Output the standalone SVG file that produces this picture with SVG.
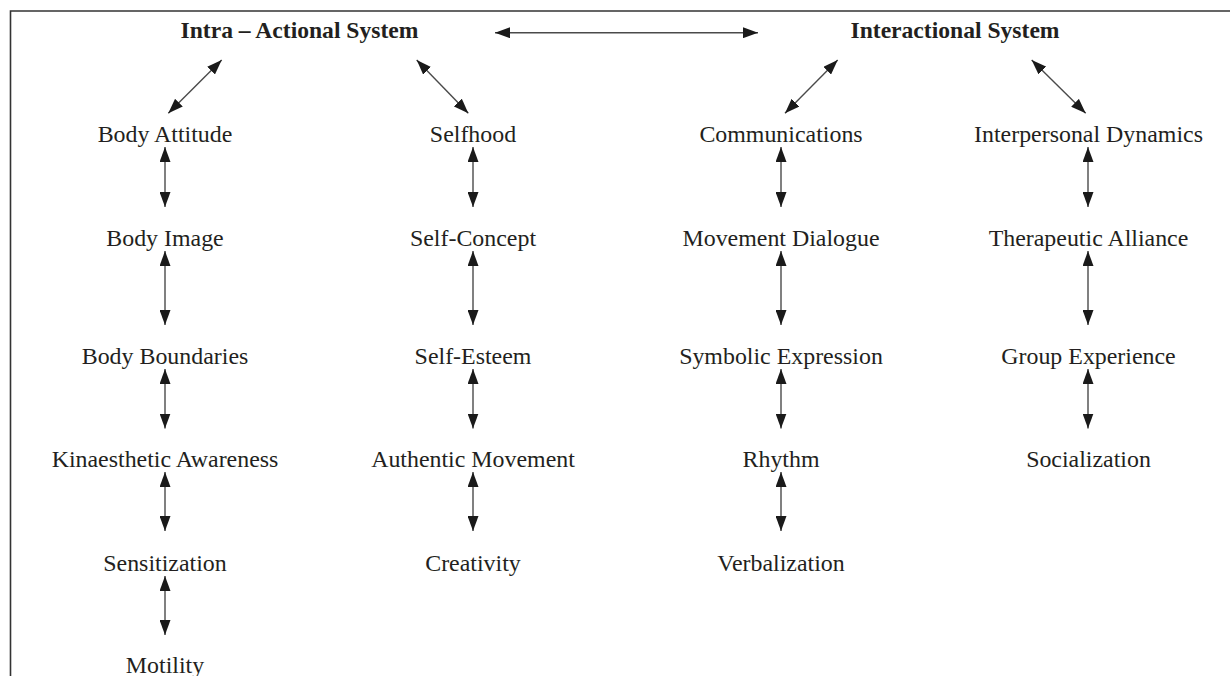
<svg xmlns="http://www.w3.org/2000/svg" width="1230" height="676" viewBox="0 0 1230 676">
<style>
.t{font-family:"Liberation Serif","Times New Roman",serif;font-size:23.9px;fill:#231f20;text-anchor:middle}
.h{font-weight:bold;font-size:23.6px}
.c line{stroke:#4a4a4a;stroke-width:1.4;marker-start:url(#ah);marker-end:url(#ah)}
.frame{stroke:#333;stroke-width:1.6;fill:none}
</style>
<defs>
<marker id="ah" viewBox="0 0 15 11" refX="15" refY="5.5" markerWidth="15" markerHeight="11" markerUnits="userSpaceOnUse" orient="auto-start-reverse">
<path d="M0,0 L15,5.5 L0,11 z" fill="#1a1a1a"/>
</marker>
</defs>
<rect width="1230" height="676" fill="#fff"/>
<path class="frame" d="M10.5,676 V11 H1230"/>
<g id="intra"><text class="t h" x="299.5" y="38">Intra – Actional System</text></g>
<g id="inter"><text class="t h" x="955" y="38">Interactional System</text></g>
<g id="body-attitude"><text class="t" x="165" y="142">Body Attitude</text></g>
<g id="body-image"><text class="t" x="165" y="246">Body Image</text></g>
<g id="body-boundaries"><text class="t" x="165" y="364">Body Boundaries</text></g>
<g id="kinaesthetic"><text class="t" x="165" y="467">Kinaesthetic Awareness</text></g>
<g id="sensitization"><text class="t" x="165" y="570.5">Sensitization</text></g>
<g id="motility"><text class="t" x="165" y="673">Motility</text></g>
<g id="selfhood"><text class="t" x="473" y="142">Selfhood</text></g>
<g id="self-concept"><text class="t" x="473" y="246">Self-Concept</text></g>
<g id="self-esteem"><text class="t" x="473" y="364">Self-Esteem</text></g>
<g id="authentic"><text class="t" x="473" y="467">Authentic Movement</text></g>
<g id="creativity"><text class="t" x="473" y="570.5">Creativity</text></g>
<g id="communications"><text class="t" x="781" y="142">Communications</text></g>
<g id="dialogue"><text class="t" x="781" y="246">Movement Dialogue</text></g>
<g id="symbolic"><text class="t" x="781" y="364">Symbolic Expression</text></g>
<g id="rhythm"><text class="t" x="781" y="467">Rhythm</text></g>
<g id="verbalization"><text class="t" x="781" y="570.5">Verbalization</text></g>
<g id="interpersonal"><text class="t" x="1088.5" y="142">Interpersonal Dynamics</text></g>
<g id="alliance"><text class="t" x="1088.5" y="246">Therapeutic Alliance</text></g>
<g id="group"><text class="t" x="1088.5" y="364">Group Experience</text></g>
<g id="socialization"><text class="t" x="1088.5" y="467">Socialization</text></g>
<g id="connectors" class="c">
<line x1="495" y1="32.7" x2="758" y2="32.7"/>
<line x1="221.7" y1="60" x2="168.3" y2="113.3"/>
<line x1="416.7" y1="60" x2="468.3" y2="113.3"/>
<line x1="837.7" y1="60" x2="785" y2="113.3"/>
<line x1="1031.7" y1="60" x2="1085.7" y2="113.3"/>
<line x1="165" y1="147" x2="165" y2="207"/>
<line x1="165" y1="251" x2="165" y2="325"/>
<line x1="165" y1="369" x2="165" y2="428.5"/>
<line x1="165" y1="472" x2="165" y2="531"/>
<line x1="165" y1="576" x2="165" y2="635"/>
<line x1="473" y1="147" x2="473" y2="207"/>
<line x1="473" y1="251" x2="473" y2="325"/>
<line x1="473" y1="369" x2="473" y2="428.5"/>
<line x1="473" y1="472" x2="473" y2="531"/>
<line x1="781" y1="147" x2="781" y2="207"/>
<line x1="781" y1="251" x2="781" y2="325"/>
<line x1="781" y1="369" x2="781" y2="428.5"/>
<line x1="781" y1="472" x2="781" y2="531"/>
<line x1="1088" y1="147" x2="1088" y2="207"/>
<line x1="1088" y1="251" x2="1088" y2="325"/>
<line x1="1088" y1="369" x2="1088" y2="428.5"/>
</g>
</svg>
